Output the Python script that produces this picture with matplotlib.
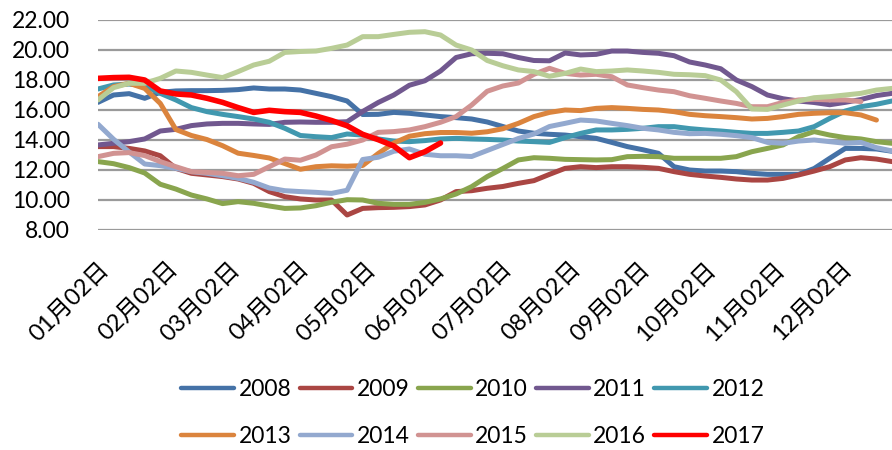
import datetime as dt
import numpy as np
import matplotlib
matplotlib.use('Agg')
import matplotlib.pyplot as plt

# weekly observations, day-of-year (Jan 2 = 1)
days = np.arange(1, 359, 7)

s2008 = [16.51, 17.0, 17.09, 16.78, 17.18, 17.27, 17.29, 17.29, 17.31, 17.36, 17.47, 17.4, 17.4,
         17.33, 17.11, 16.89, 16.6, 15.7, 15.71, 15.84, 15.78, 15.67, 15.56, 15.49, 15.4, 15.2,
         14.9, 14.6, 14.45, 14.38, 14.33, 14.22, 14.11, 13.84, 13.56, 13.35, 13.11, 12.22, 12.0,
         11.93, 11.93, 11.89, 11.78, 11.71, 11.71, 11.71, 12.1, 12.78, 13.44, 13.44, 13.4, 13.25]
s2009 = [13.56, 13.56, 13.44, 13.27, 12.95, 12.11, 11.78, 11.67, 11.56, 11.4, 11.11, 10.56, 10.22,
         10.07, 10.0, 10.0, 9.0, 9.44, 9.49, 9.51, 9.56, 9.67, 10.0, 10.56, 10.62, 10.78,
         10.9, 11.11, 11.29, 11.71, 12.11, 12.22, 12.16, 12.22, 12.22, 12.18, 12.11, 11.89, 11.71,
         11.6, 11.51, 11.4, 11.33, 11.33, 11.44, 11.67, 11.93, 12.22, 12.67, 12.82, 12.73, 12.56]
s2010 = [12.56, 12.42, 12.16, 11.8, 11.05, 10.73, 10.33, 10.07, 9.76, 9.89, 9.78, 9.6, 9.44,
         9.47, 9.62, 9.85, 10.02, 10.0, 9.78, 9.71, 9.71, 9.84, 10.07, 10.4, 10.89, 11.56,
         12.1, 12.67, 12.82, 12.78, 12.71, 12.69, 12.67, 12.69, 12.89, 12.91, 12.89, 12.78, 12.78,
         12.78, 12.78, 12.89, 13.22, 13.44, 13.67, 14.22, 14.56, 14.33, 14.16, 14.07, 13.89, 13.78]
s2011 = [13.67, 13.78, 13.89, 14.07, 14.6, 14.71, 14.96, 15.07, 15.11, 15.11, 15.07, 15.04, 15.18,
         15.2, 15.18, 15.18, 15.22, 15.9, 16.5, 17.0, 17.65, 17.95, 18.6, 19.5, 19.75, 19.78,
         19.75, 19.5, 19.3, 19.28, 19.8, 19.67, 19.71, 19.93, 19.93, 19.84, 19.78, 19.62, 19.2,
         19.0, 18.75, 18.0, 17.56, 17.0, 16.75, 16.6, 16.5, 16.35, 16.51, 16.7, 16.96, 17.11]
s2012 = [17.4, 17.67, 17.73, 17.62, 17.11, 16.67, 16.16, 15.89, 15.71, 15.56, 15.4, 15.18, 14.78,
         14.3, 14.22, 14.16, 14.4, 14.33, 14.07, 13.93, 13.89, 13.96, 14.07, 14.11, 14.07, 14.04,
         14.0, 13.93, 13.89, 13.84, 14.16, 14.44, 14.67, 14.67, 14.71, 14.78, 14.89, 14.89, 14.76,
         14.67, 14.6, 14.51, 14.44, 14.44, 14.51, 14.6, 14.89, 15.44, 15.93, 16.22, 16.38, 16.6]
s2013 = [16.89, 17.56, 17.78, 17.44, 16.44, 14.7, 14.3, 14.03, 13.62, 13.12, 12.97, 12.8, 12.43,
         12.05, 12.22, 12.28, 12.25, 12.3, 13.1, 13.8, 14.25, 14.42, 14.5, 14.5, 14.45, 14.55,
         14.75, 15.11, 15.56, 15.84, 16.0, 15.96, 16.11, 16.16, 16.11, 16.04, 16.0, 15.89, 15.71,
         15.62, 15.56, 15.49, 15.4, 15.44, 15.56, 15.71, 15.78, 15.82, 15.82, 15.67, 15.33]
s2014 = [15.05, 14.05, 13.2, 12.4, 12.29, 12.11, 11.89, 11.78, 11.62, 11.44, 11.18, 10.8, 10.62,
         10.56, 10.51, 10.44, 10.65, 12.7, 12.85, 13.25, 13.4, 13.05, 12.95, 12.95, 12.9, 13.3,
         13.7, 14.1, 14.4, 14.9, 15.11, 15.33, 15.27, 15.11, 14.96, 14.78, 14.67, 14.51, 14.42,
         14.44, 14.38, 14.29, 14.16, 13.84, 13.78, 13.93, 14.0, 13.89, 13.78, 13.84, 13.49, 13.27]
s2015 = [12.89, 13.11, 13.16, 12.96, 12.56, 12.22, 11.89, 11.84, 11.78, 11.62, 11.71, 12.22, 12.73,
         12.65, 13.0, 13.55, 13.72, 14.0, 14.51, 14.56, 14.67, 14.89, 15.18, 15.56, 16.33, 17.25,
         17.6, 17.8, 18.38, 18.78, 18.44, 18.33, 18.38, 18.22, 17.67, 17.49, 17.33, 17.22, 16.95,
         16.78, 16.6, 16.44, 16.22, 16.22, 16.51, 16.67, 16.71, 16.67, 16.67, 16.56]
s2016 = [16.67, 17.49, 17.78, 17.78, 18.11, 18.6, 18.51, 18.33, 18.16, 18.56, 19.0, 19.25, 19.84,
         19.9, 19.93, 20.11, 20.33, 20.89, 20.89, 21.04, 21.18, 21.22, 21.0, 20.33, 20.0, 19.3,
         18.95, 18.67, 18.56, 18.25, 18.44, 18.73, 18.56, 18.6, 18.67, 18.6, 18.51, 18.38, 18.35,
         18.29, 18.0, 17.22, 16.07, 16.04, 16.33, 16.6, 16.82, 16.89, 17.0, 17.11, 17.33, 17.44]
s2017 = [18.11, 18.16, 18.18, 18.0, 17.27, 17.07, 17.0, 16.78, 16.51, 16.16, 15.84, 15.98, 15.89,
         15.84, 15.6, 15.3, 14.95, 14.38, 14.02, 13.6, 12.82, 13.22, 13.8]

years = ['2008', '2009', '2010', '2011', '2012', '2013', '2014', '2015', '2016', '2017']
series = [s2008, s2009, s2010, s2011, s2012, s2013, s2014, s2015, s2016, s2017]
colors = ['#4572A7', '#AA4643', '#89A54E', '#71588F', '#4198AF',
          '#DB843D', '#93A9CF', '#D19392', '#B9CD96', '#FF0000']

tick_days = [(dt.date(2017, m, 2) - dt.date(2017, 1, 1)).days for m in range(1, 13)]
tick_labels = ['%02d月02日' % m for m in range(1, 13)]

FONT = ['Lato', 'Noto Sans CJK SC', 'DejaVu Sans']
plt.rcParams['font.family'] = FONT

fig = plt.figure(figsize=(8.92, 4.5), dpi=100)
ax = fig.add_axes([98 / 892, 1 - 230 / 450, 1 - 98 / 892, 210 / 450])

lines = []
for name, vals, c in zip(years, series, colors):
    lw = 4.0 if name == '2017' else 3.6
    ln, = ax.plot(days[:len(vals)], vals, color=c, lw=lw, label=name,
                  solid_capstyle='round', solid_joinstyle='round', zorder=3)
    lines.append(ln)

ax.set_xlim(1, 358)
ax.set_ylim(8, 22)
ax.set_yticks(np.arange(8, 22.1, 2))
ax.set_yticklabels(['%.2f' % v for v in np.arange(8, 22.1, 2)], fontsize=16.5)
ax.yaxis.grid(True, color='#9a9a9a', lw=1.6)
ax.set_axisbelow(True)
for sp in ax.spines.values():
    sp.set_visible(False)
ax.tick_params(axis='both', length=0)
ax.tick_params(axis='y', pad=20)

ax.set_xticks(tick_days)
ax.set_xticklabels(tick_labels, fontsize=17, rotation=45, ha='right', va='top',
                   rotation_mode='anchor')
ax.tick_params(axis='x', pad=20)

# legend fills row by row: 2008-2012 on top, 2013-2017 below
order = [0, 5, 1, 6, 2, 7, 3, 8, 4, 9]
leg = fig.legend([lines[k] for k in order], [years[k] for k in order],
                 loc='center', bbox_to_anchor=(473 / 892, 1 - 413 / 450), ncol=5,
                 frameon=False, fontsize=16.5, handlelength=2.3, handletextpad=0.2,
                 columnspacing=0.35, labelspacing=1.15, borderpad=0)
for h in leg.get_lines():
    h.set_linewidth(3.2)
    h.set_solid_capstyle('round')

fig.savefig('out.png', dpi=100, facecolor='white')
